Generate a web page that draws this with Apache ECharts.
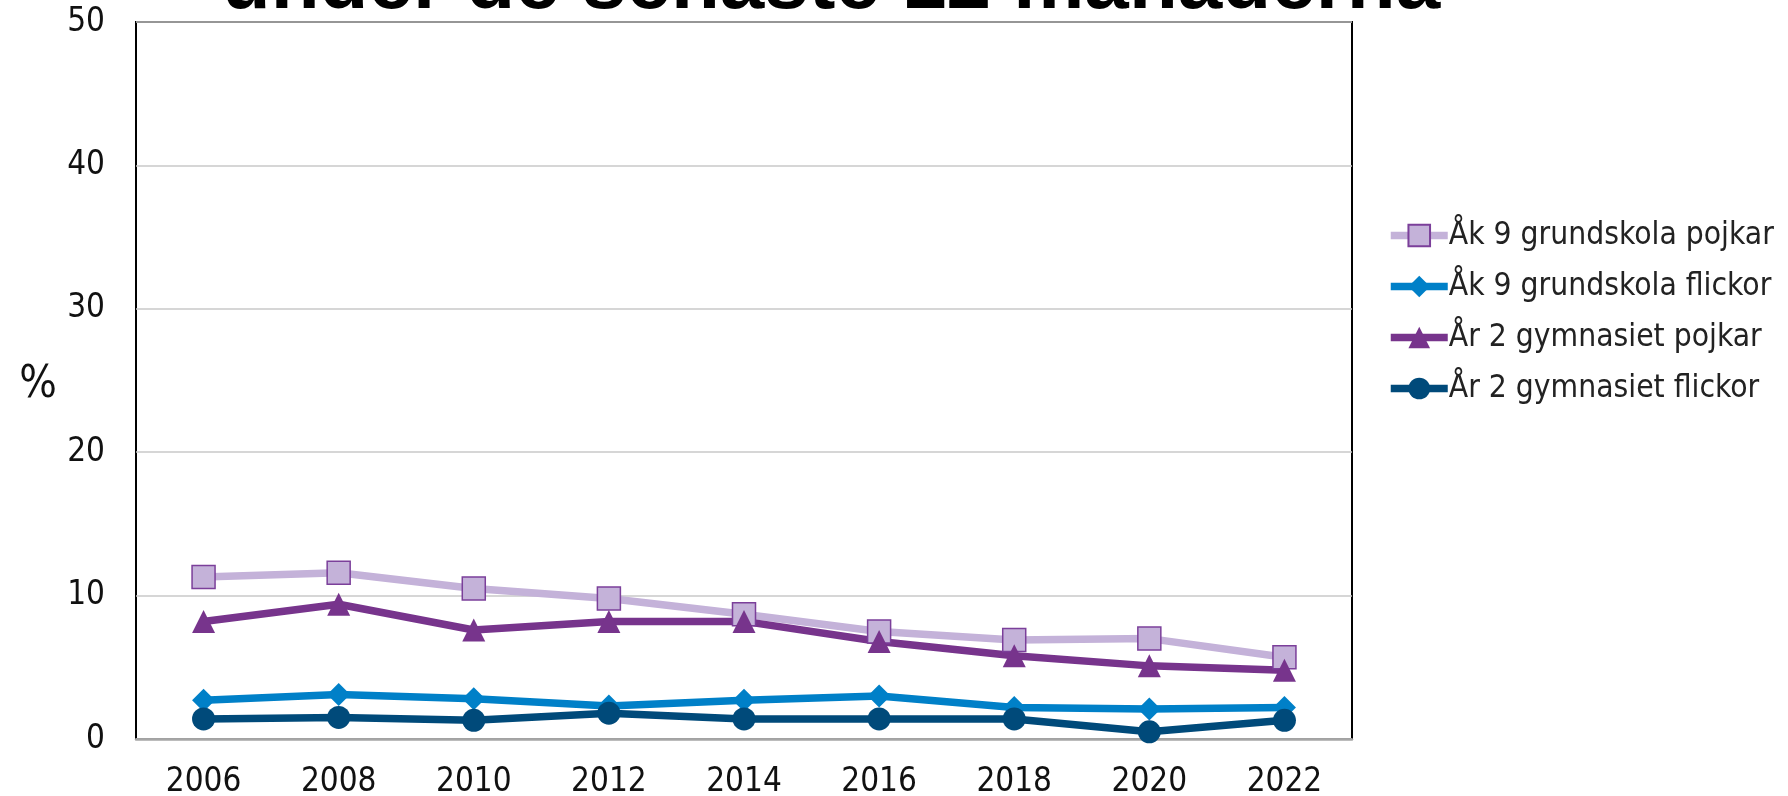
<!DOCTYPE html>
<html>
<head>
<meta charset="utf-8">
<script src="https://cdn.jsdelivr.net/npm/echarts@6/dist/echarts.min.js"></script>
<style>
html,body{margin:0;padding:0;background:#fff;}
#chart{width:1788px;height:796px;}
</style>
</head>
<body>
<div id="chart"></div>
<script>
const years = ['2006','2008','2010','2012','2014','2016','2018','2020','2022'];
const ak9Pojkar = [11.3, 11.6, 10.5, 9.8, 8.7, 7.5, 6.9, 7.0, 5.7];
const ak9Flickor = [2.7, 3.1, 2.8, 2.3, 2.7, 3.0, 2.2, 2.1, 2.2];
const gy2Pojkar = [8.2, 9.4, 7.6, 8.2, 8.2, 6.8, 5.8, 5.1, 4.8];
const gy2Flickor = [1.4, 1.5, 1.3, 1.8, 1.4, 1.4, 1.4, 0.5, 1.3];
const seriesNames = ['Åk 9 grundskola pojkar','Åk 9 grundskola flickor','År 2 gymnasiet pojkar','År 2 gymnasiet flickor'];
const yTicks = [0, 10, 20, 30, 40, 50];
const titleText = 'under de senaste 12 månaderna';
const yAxisTitle = '%';

const FONT = '"DejaVu Sans Condensed", "DejaVu Sans", sans-serif';
const chart = echarts.init(document.getElementById('chart'), null, {renderer:'canvas'});

function mkSeries(name, data, color, symbol, extraItem) {
  return {
    name: name, type: 'line', data: data,
    symbol: symbol, symbolSize: 23,
    lineStyle: {color: color, width: 7.5},
    itemStyle: Object.assign({color: color}, extraItem || {}),
    emphasis: {disabled: true},
    animation: false
  };
}

chart.setOption({
  backgroundColor: '#fff',
  animation: false,
  graphic: [
    {type:'text', x: 831, y: -14, style: {text: titleText, align: 'center', verticalAlign: 'middle', font: 'bold 80px "Liberation Sans", Arial, sans-serif', fill: '#000'}},
    {type:'text', x: 38, y: 386, style: {text: yAxisTitle, align: 'center', verticalAlign: 'middle', font: '44px ' + FONT, fill: '#111'}}
  ],
  grid: {left: 136, right: 436, top: 22, bottom: 57, show: true, borderColor: '#000', borderWidth: 2, containLabel: false, outerBoundsMode: 'none'},
  legend: {
    orient: 'vertical', left: 1387, top: 219, padding: 0,
    itemWidth: 57, itemHeight: 27, itemGap: 18,
    lineStyle: {width: 7.5},
    textStyle: {fontFamily: FONT, fontSize: 31.5, color: '#222', padding: [0,0,0,-4], lineHeight: 33},
    data: seriesNames
  },
  xAxis: {
    type: 'category', data: years, boundaryGap: true,
    axisLine: {show: true, lineStyle: {color: '#a6a6a6', width: 2.5}},
    axisTick: {show: false},
    axisLabel: {fontFamily: FONT, fontSize: 33, color: '#111', margin: 27}
  },
  yAxis: {
    type: 'value', min: 0, max: 50, interval: 10,
    axisLine: {show: false}, axisTick: {show: false},
    splitLine: {lineStyle: {color: '#c8c8c8', width: 1.5}},
    axisLabel: {fontFamily: FONT, fontSize: 33, color: '#111', margin: 31,
      formatter: function(v){ return yTicks.indexOf(v) >= 0 ? String(v) : ''; }}
  },
  series: [
    mkSeries(seriesNames[0], ak9Pojkar, '#c4b2d9', 'rect', {borderColor: '#7b3f9a', borderWidth: 1.5}),
    mkSeries(seriesNames[1], ak9Flickor, '#0080c8', 'diamond'),
    mkSeries(seriesNames[2], gy2Pojkar, '#77348c', 'triangle'),
    mkSeries(seriesNames[3], gy2Flickor, '#004a7a', 'circle')
  ]
});
</script>
</body>
</html>
